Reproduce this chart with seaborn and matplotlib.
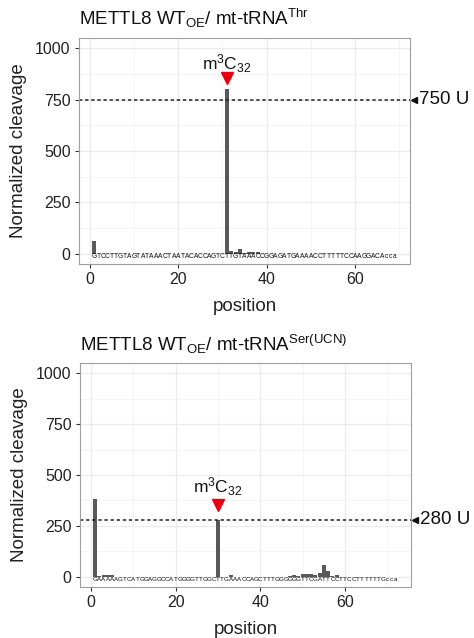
import matplotlib
matplotlib.use("Agg")
import matplotlib.pyplot as plt
import matplotlib.transforms as mtransforms
from matplotlib import font_manager
import seaborn as sns
import pandas as pd

# ---------------- data ----------------
seq_thr = "GTCCTTGTAGTATAAACTAATACACCAGTCTTGTAAACCGGAGATGAAAACCTTTTTCCAAGGACAcca"
seq_ser = "GAAAAAGTCATGGAGGCCATGGGGTTGGCTTGAAACCAGCTTTGGGGGGTTCGATTCCTTCCTTTTTTGcca"

# normalized cleavage per position (1-based)
vals_thr = [62, 0, 0, 0, 0, 0, 0, 0, 0, 0,
            0, 0, 0, 0, 0, 0, 0, 0, 0, 0,
            0, 0, 0, 0, 0, 0, 0, 0, 0, 0,
            800, 15, 8, 22, 5, 8, 10, 8, 0, 0,
            0, 0, 0, 0, 0, 0, 0, 0, 0, 0,
            0, 0, 0, 0, 0, 0, 0, 0, 0, 0,
            0, 0, 0, 0, 0, 0, 0, 0, 0]
vals_ser = [380, 5, 8, 8, 8, 0, 0, 0, 0, 0,
            0, 0, 0, 0, 0, 0, 0, 0, 0, 0,
            0, 0, 0, 0, 0, 0, 0, 0, 0, 280,
            0, 0, 10, 0, 0, 0, 0, 0, 0, 0,
            0, 0, 0, 0, 0, 0, 3, 8, 6, 12,
            12, 12, 10, 20, 58, 28, 3, 8, 0, 0,
            0, 0, 0, 0, 0, 0, 0, 0, 0, 0,
            0, 0]

titles = [r"METTL8 WT$_{\mathrm{OE}}$/ mt-tRNA$^{\mathrm{Thr}}$",
          r"METTL8 WT$_{\mathrm{OE}}$/ mt-tRNA$^{\mathrm{Ser(UCN)}}$"]
mod_pos = [31, 30]
arrow_y = [855, 352]
label_y = [925, 442]
cut_level = [750, 280]
cut_labels = ["750 U", "280 U"]
y_ticks = [0, 250, 500, 750, 1000]
x_ticks = [0, 20, 40, 60]

# ---------------- style ----------------
sns.set_theme(style="white")
plt.rcParams["font.family"] = ["Liberation Sans", "DejaVu Sans"]
plt.rcParams["mathtext.fontset"] = "custom"
plt.rcParams["mathtext.rm"] = "Liberation Sans"
plt.rcParams["mathtext.it"] = "Liberation Sans"
plt.rcParams["mathtext.bf"] = "Liberation Sans"

available = {f.name for f in font_manager.fontManager.ttflist}
seq_family = "Liberation Sans Narrow" if "Liberation Sans Narrow" in available else "Liberation Sans"
seq_sizes = [5.3, 4.9] if seq_family == "Liberation Sans Narrow" else [4.8, 4.5]

fig = plt.figure(figsize=(4.74, 6.38), dpi=100)
W, H = 474, 638
ax1 = fig.add_axes([79 / W, 1 - 264 / H, 331 / W, 226 / H])
ax2 = fig.add_axes([80 / W, 1 - 587 / H, 331 / W, 224 / H])

panels = [(ax1, seq_thr, vals_thr), (ax2, seq_ser, vals_ser)]
for k, (ax, seq, vals) in enumerate(panels):
    n = len(seq)
    df = pd.DataFrame({"position": list(range(1, n + 1)), "value": vals})
    sns.barplot(data=df, x="position", y="value", native_scale=True,
                color="#595959", saturation=1, width=0.95, ax=ax,
                edgecolor="none", errorbar=None)
    ax.set_xlim(1 - 0.05 * (n - 1), n + 0.05 * (n - 1))
    ax.set_ylim(-50, 1050)
    ax.set_xticks(x_ticks)
    ax.set_yticks(y_ticks)
    ax.set_xticks([10, 30, 50, 70], minor=True)
    ax.set_yticks([125, 375, 625, 875], minor=True)
    ax.grid(True, which="major", color="#ebebeb", lw=0.9)
    ax.grid(True, which="minor", color="#f3f3f3", lw=0.6)
    ax.set_axisbelow(True)
    for s in ax.spines.values():
        s.set_color("#a0a0a0")
        s.set_linewidth(0.8)
    ax.tick_params(axis="both", which="major", length=3, width=0.8,
                   color="#333333", labelsize=11.5, labelcolor="#222222",
                   bottom=True, left=True, pad=3)
    ax.tick_params(axis="both", which="minor", length=0)
    ax.set_xlabel("position", fontsize=13.5, color="#222222", labelpad=8)
    ax.set_ylabel("Normalized cleavage", fontsize=13.5, color="#222222", labelpad=6)
    ax.set_title(titles[k], loc="left", fontsize=13.5, pad=9, color="#111111")

    # sequence letters under the bars
    for i, ch in enumerate(seq, start=1):
        ax.text(i, -14, ch, ha="center", va="center", fontsize=seq_sizes[k],
                family=seq_family, color="#111111")

    # cut-level dashed line and label
    ax.axhline(cut_level[k], color="#222222", lw=1.1, ls=(0, (2.2, 1.8)))
    tr = mtransforms.blended_transform_factory(ax.transAxes, ax.transData)
    ax.plot([1.013], [cut_level[k]], marker="<", ms=4, color="#111111",
            transform=tr, clip_on=False, lw=0)
    ax.text(1.028, cut_level[k], cut_labels[k], transform=tr, va="center",
            ha="left", fontsize=13.5, color="#111111")

    # modification marker
    ax.plot([mod_pos[k]], [arrow_y[k]], marker="v", ms=8.5, color="#e60012",
            lw=0, clip_on=False)
    ax.text(mod_pos[k], label_y[k], r"m$^{3}$C$_{32}$", ha="center",
            va="center", fontsize=12.5, color="#111111")

fig.savefig("out.png", dpi=100)
